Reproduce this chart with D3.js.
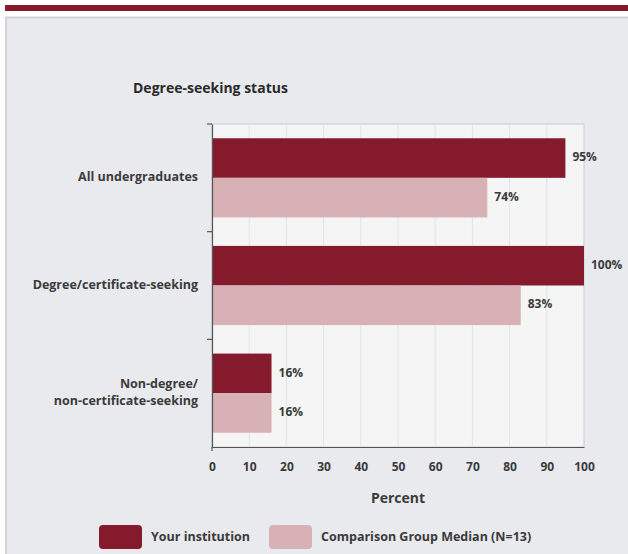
<!DOCTYPE html>
<html><head><meta charset="utf-8">
<script src="https://cdn.jsdelivr.net/npm/d3@7"></script>
<style>
body{margin:0;background:#fff;}
svg{display:block;font-family:"Open Sans",sans-serif;}
</style></head>
<body><svg id="c" width="628" height="554"></svg>
<script>
const categories = ["All undergraduates", "Degree/certificate-seeking", "Non-degree/\nnon-certificate-seeking"];
const yourInstitution = [95, 100, 16];
const comparisonMedian = [74, 83, 16];
const xTicks = [0,10,20,30,40,50,60,70,80,90,100];
const seriesNames = ["Your institution", "Comparison Group Median (N=13)"];
const colors = ["#861a2d", "#d8b1b6"];
const title = "Degree-seeking status";
const xTitle = "Percent";

const FS = "12.5px", FW = "700", TC = "#3a3a3a";
const svg = d3.select("#c");
svg.append("rect").attr("x",5).attr("y",5).attr("width",623).attr("height",6).attr("fill","#861a2d");
svg.append("rect").attr("x",6).attr("y",17.5).attr("width",640).attr("height",560)
  .attr("fill","#e9eaee").attr("stroke","#d3d3d3").attr("stroke-width",2);

const m = {left:212, right:584, top:124, bottom:447};
const x = d3.scaleLinear().domain([0,100]).range([m.left, m.right]);
const y = d3.scaleBand().domain(categories).range([m.top, m.bottom]).paddingInner(0).paddingOuter(0);
const inner = d3.scaleBand().domain([0,1]).range([0, y.bandwidth()]).paddingInner(0).paddingOuter(0.36);

svg.append("rect").attr("x",m.left).attr("y",m.top).attr("width",m.right-m.left).attr("height",m.bottom-m.top)
  .attr("fill","#f5f5f5").attr("stroke","#c8ccd2").attr("stroke-width",1);
svg.append("g").selectAll("line").data(xTicks.slice(1,-1)).join("line")
  .attr("x1",d=>x(d)).attr("x2",d=>x(d)).attr("y1",m.top).attr("y2",m.bottom)
  .attr("stroke","#dfe4ec").attr("stroke-width",1);

const series = [yourInstitution, comparisonMedian];
series.forEach((vals, si) => {
  const g = svg.append("g");
  g.selectAll("rect").data(categories).join("rect")
    .attr("x", x(0))
    .attr("y", (d) => y(d) + inner(si))
    .attr("width", (d,i) => x(vals[i]) - x(0))
    .attr("height", inner.bandwidth())
    .attr("fill", colors[si]);
  g.selectAll("text").data(categories).join("text")
    .attr("x", (d,i) => x(vals[i]) + 7)
    .attr("y", (d) => y(d) + inner(si) + inner.bandwidth()/2 - 1)
    .attr("dy","0.35em")
    .attr("font-size","12px").attr("font-weight",FW).attr("fill",TC)
    .text((d,i)=> vals[i] + "%");
});

const yAxis = svg.append("g").attr("transform",`translate(${m.left},0)`)
  .call(d3.axisLeft(y).tickSize(0).tickFormat(""));
yAxis.select(".domain").attr("stroke","#555").attr("stroke-width",1.2);
svg.append("g").selectAll("line").data(categories).join("line")
  .attr("x1",m.left-5).attr("x2",m.left).attr("y1",d=>y(d)).attr("y2",d=>y(d))
  .attr("stroke","#555").attr("stroke-width",1.2);
svg.append("g").selectAll("text").data(categories).join("text")
  .attr("text-anchor","end").attr("font-size",FS).attr("font-weight",FW).attr("fill",TC)
  .each(function(d){
    const lines = d.split("\n");
    const cy = y(d) + y.bandwidth()/2;
    const t = d3.select(this);
    lines.forEach((l,i)=>{
      t.append("tspan").attr("x", 198)
       .attr("y", cy + (i - (lines.length-1)/2)*17 - 1)
       .attr("dy","0.35em").text(l);
    });
  });

const xAxis = svg.append("g").attr("transform",`translate(0,${m.bottom})`)
  .call(d3.axisBottom(x).tickValues(xTicks).tickSize(0).tickPadding(15));
xAxis.select(".domain").attr("stroke","#555").attr("stroke-width",1.2);
xAxis.selectAll("text").attr("font-family","Open Sans").attr("font-size","12px").attr("font-weight",FW).attr("fill",TC);
svg.append("line").attr("x1",m.left).attr("x2",m.left).attr("y1",m.bottom).attr("y2",m.bottom+4)
  .attr("stroke","#555").attr("stroke-width",1.2);

svg.append("text").attr("x",133).attr("y",93).attr("font-size","14px").attr("font-weight","700").attr("fill","#2a2a2a").text(title);
svg.append("text").attr("x",(m.left+m.right)/2).attr("y",503).attr("text-anchor","middle")
  .attr("font-size","14px").attr("font-weight","700").attr("fill",TC).text(xTitle);

const legX = [99, 269];
seriesNames.forEach((n,i)=>{
  svg.append("rect").attr("x",legX[i]).attr("y",525).attr("width",43).attr("height",24).attr("rx",4)
    .attr("fill",colors[i]);
  svg.append("text").attr("x",legX[i]+52).attr("y",537).attr("dy","0.35em")
    .attr("font-size",FS).attr("font-weight",FW).attr("fill",TC).text(n);
});
</script></body></html>
